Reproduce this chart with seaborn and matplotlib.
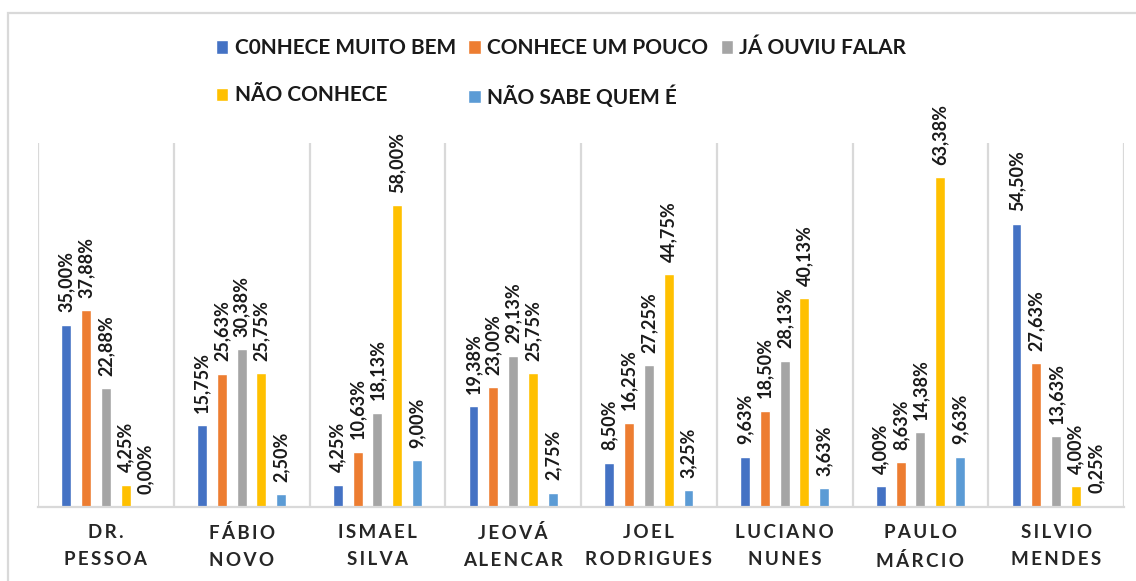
"""Grouped bar chart: grau de conhecimento dos candidatos."""

import matplotlib
matplotlib.use('Agg')
import matplotlib.pyplot as plt
from matplotlib.patches import Rectangle
import pandas as pd
import seaborn as sns

# Daten
candidates = ['DR.\nPESSOA', 'FÁBIO\nNOVO', 'ISMAEL\nSILVA', 'JEOVÁ\nALENCAR',
              'JOEL\nRODRIGUES', 'LUCIANO\nNUNES', 'PAULO\nMÁRCIO', 'SILVIO\nMENDES']
series = ['C0NHECE MUITO BEM', 'CONHECE UM POUCO', 'JÁ OUVIU FALAR',
          'NÃO CONHECE', 'NÃO SABE QUEM É']
muito_bem = [35.00, 15.75, 4.25, 19.38, 8.50, 9.63, 4.00, 54.50]
um_pouco = [37.88, 25.63, 10.63, 23.00, 16.25, 18.50, 8.63, 27.63]
ouviu_falar = [22.88, 30.38, 18.13, 29.13, 27.25, 28.13, 14.38, 13.63]
nao_conhece = [4.25, 25.75, 58.00, 25.75, 44.75, 40.13, 63.38, 4.00]
nao_sabe = [0.00, 2.50, 9.00, 2.75, 3.25, 3.63, 9.63, 0.25]
colors = ['#4472C4', '#ED7D31', '#A5A5A5', '#FFC000', '#5B9BD5']

values = [muito_bem, um_pouco, ouviu_falar, nao_conhece, nao_sabe]
df = pd.DataFrame([
    {'candidato': c, 'serie': s, 'valor': v}
    for s, vals in zip(series, values)
    for c, v in zip(candidates, vals)
])

sns.set_theme(style='white')
plt.rcParams['font.family'] = ['Lato', 'DejaVu Sans']

fig = plt.figure(figsize=(11.36, 5.81), dpi=100)
ax = fig.add_axes([38 / 1136, 1 - 507 / 581, (1124 - 38) / 1136, (507 - 143) / 581])

sns.barplot(data=df, x='candidato', y='valor', hue='serie', order=candidates,
            hue_order=series, palette=colors, width=0.73, gap=0.5,
            saturation=1, legend=True, ax=ax)

grid_color = '#D9D9D9'
ax.set_xlim(-0.5, len(candidates) - 0.5)
ax.set_ylim(0, 70)
for xb in range(len(candidates) + 1):
    ax.axvline(xb - 0.5, color=grid_color, lw=1.6, zorder=0)
for side in ['top', 'left', 'right']:
    ax.spines[side].set_visible(False)
ax.spines['bottom'].set_color(grid_color)
ax.spines['bottom'].set_linewidth(1.6)
ax.set_yticks([])
ax.set_xlabel('')
ax.set_ylabel('')

# Gesperrte Achsenbeschriftung (Thin Space zwischen den Buchstaben)
spaced = ['\n'.join('\u2009'.join(line) for line in c.split('\n')) for c in candidates]
ax.set_xticks(range(len(candidates)))
ax.set_xticklabels(spaced, fontsize=13.5, fontweight='bold', color='#262626',
                   linespacing=1.75)
ax.tick_params(axis='x', length=0, pad=12)

for cont, vals in zip(ax.containers, values):
    labels = [f'{v:.2f}%'.replace('.', ',') for v in vals]
    ax.bar_label(cont, labels=labels, rotation=90, padding=9, fontsize=13,
                 fontweight='bold', color='#1a1a1a', clip_on=False)

handles, labels = ax.get_legend_handles_labels()
ax.get_legend().remove()
order = [0, 3, 1, 4, 2]
fig.legend([handles[i] for i in order], [labels[i] for i in order],
           loc='center', bbox_to_anchor=(0.494, 0.874), ncol=3, frameon=False,
           prop={'weight': 'bold', 'size': 15}, handlelength=0.6,
           handleheight=0.6, handletextpad=0.3, columnspacing=0.6,
           labelspacing=1.3, labelcolor='#1a1a1a')

fig.patches.append(Rectangle((8 / 1136, -0.02), 1.0, 1.02 - 13 / 581,
                             transform=fig.transFigure, fill=False,
                             edgecolor=grid_color, lw=1.6))

fig.savefig('out.png', dpi=100)
plt.close(fig)
